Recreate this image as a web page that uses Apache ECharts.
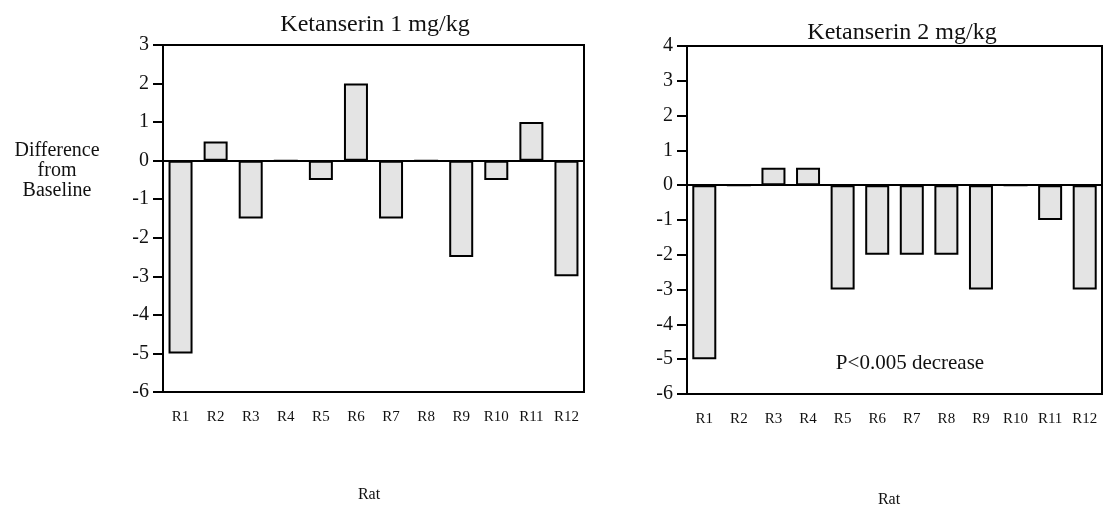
<!DOCTYPE html>
<html><head><meta charset="utf-8">
<script src="https://cdn.jsdelivr.net/npm/echarts@6/dist/echarts.min.js"></script>
<style>html,body{margin:0;padding:0;background:#fff}#c{width:1103px;height:510px}</style>
</head><body><div id="c"></div>
<script>
const categories = ['R1','R2','R3','R4','R5','R6','R7','R8','R9','R10','R11','R12'];
const dose1Values = [-5, 0.5, -1.5, 0, -0.5, 2, -1.5, 0, -2.5, -0.5, 1, -3];
const dose2Values = [-5, 0, 0.5, 0.5, -3, -2, -2, -2, -3, 0, -1, -3];
const titles = ['Ketanserin 1 mg/kg', 'Ketanserin 2 mg/kg'];
const yLabel = 'Difference\nfrom\nBaseline';
const xLabel = 'Rat';
const note = 'P<0.005 decrease';

const F = 'Liberation Serif, Times New Roman, serif';
const chart = echarts.init(document.getElementById('c'));

function xAxis(i) {
  return {
    type: 'category', gridIndex: i, data: categories, position: 'bottom',
    axisLine: { onZero: false, lineStyle: { color: '#000', width: 2 } },
    axisTick: { alignWithLabel: true, length: 9, lineStyle: { color: '#000', width: 2 } },
    axisLabel: { color: '#111', fontFamily: F, fontSize: 15, margin: 18 },
    splitLine: { show: false }
  };
}
function yAxis(i, min, max) {
  return {
    type: 'value', gridIndex: i, min: min, max: max, interval: 1,
    axisLine: { show: true, lineStyle: { color: '#000', width: 2 } },
    axisTick: { show: true, length: 10, lineStyle: { color: '#000', width: 2 } },
    axisLabel: { color: '#111', fontFamily: F, fontSize: 20, margin: 14 },
    splitLine: { show: false }
  };
}
function barSeries(i, data) {
  return {
    type: 'bar', xAxisIndex: i, yAxisIndex: i, data: data, barWidth: 24,
    itemStyle: { color: '#e4e4e4', borderColor: '#000', borderWidth: 2 },
    markLine: {
      silent: true, symbol: 'none', label: { show: false },
      lineStyle: { color: '#000', width: 2, type: 'solid' },
      data: [{ yAxis: 0 }]
    },
    z: 3
  };
}

chart.setOption({
  animation: false,
  grid: [
    { left: 163, top: 45, width: 421, height: 347, show: true, borderColor: '#000', borderWidth: 2, backgroundColor: 'transparent' },
    { left: 687, top: 46, width: 415, height: 348, show: true, borderColor: '#000', borderWidth: 2, backgroundColor: 'transparent' }
  ],
  title: [
    { text: titles[0], left: 370, top: 8, textAlign: 'center', textStyle: { fontFamily: F, fontSize: 24, fontWeight: 'normal', color: '#111' } },
    { text: titles[1], left: 897, top: 16, textAlign: 'center', textStyle: { fontFamily: F, fontSize: 24, fontWeight: 'normal', color: '#111' } }
  ],
  graphic: [
    { type: 'text', x: 57, y: 171, style: { text: yLabel, fontFamily: F, fontSize: 20, fill: '#111', align: 'center', verticalAlign: 'middle', lineHeight: 20 } },
    { type: 'text', x: 369, y: 495, style: { text: xLabel, fontFamily: F, fontSize: 16, fill: '#111', align: 'center', verticalAlign: 'middle' } },
    { type: 'text', x: 889, y: 500, style: { text: xLabel, fontFamily: F, fontSize: 16, fill: '#111', align: 'center', verticalAlign: 'middle' } },
    { type: 'text', x: 910, y: 363, style: { text: note, fontFamily: F, fontSize: 21, fill: '#111', align: 'center', verticalAlign: 'middle' } }
  ],
  xAxis: [xAxis(0), xAxis(1)],
  yAxis: [yAxis(0, -6, 3), yAxis(1, -6, 4)],
  series: [barSeries(0, dose1Values), barSeries(1, dose2Values)]
});
</script></body></html>
